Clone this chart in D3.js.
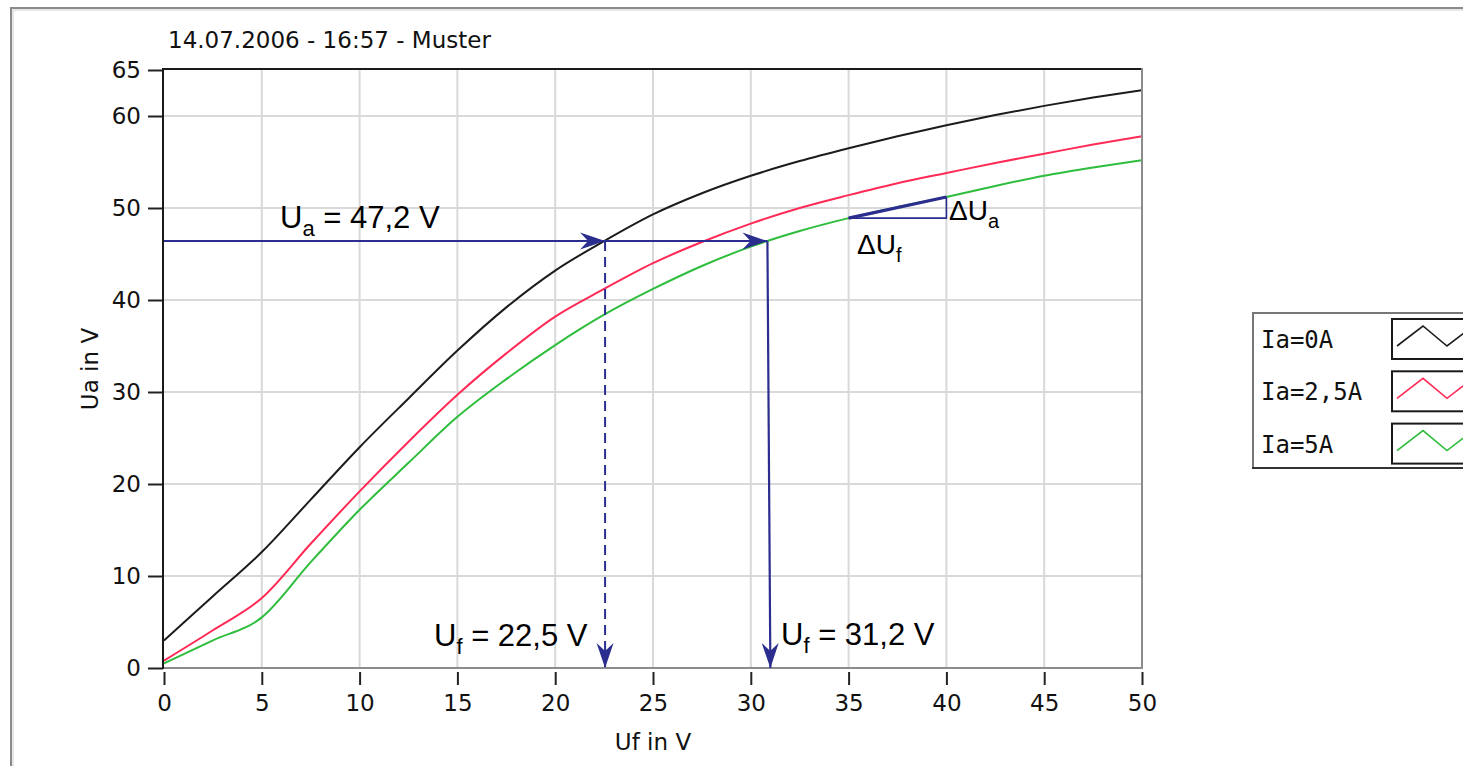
<!DOCTYPE html>
<html>
<head>
<meta charset="utf-8">
<script src="https://cdn.jsdelivr.net/npm/d3@7"></script>
<style>
  body { margin: 0; background: #fff; }
  svg { display: block; }
  .tick text { font-family: "DejaVu Sans", sans-serif; font-size: 23px; fill: #111; }
  .lbl { font-family: "Liberation Sans", Arial, sans-serif; fill: #000; }
</style>
</head>
<body>
<svg width="1463" height="766"></svg>
<script>
  // values
  const ufValues = [0, 2.5, 5, 7.5, 10, 12.5, 15, 17.5, 20, 22.5, 25, 27.5, 30, 32.5, 35, 37.5, 40, 42.5, 45, 47.5, 50];
  const ua0  = [3.0, 7.8, 12.6, 18.3, 24.0, 29.3, 34.5, 39.2, 43.2, 46.4, 49.3, 51.6, 53.5, 55.1, 56.5, 57.8, 59.0, 60.1, 61.1, 62.0, 62.8];
  const ua25 = [0.8, 4.1, 7.6, 13.5, 19.2, 24.6, 29.7, 34.2, 38.2, 41.2, 44.0, 46.3, 48.3, 50.0, 51.4, 52.7, 53.8, 54.9, 55.9, 56.9, 57.8];
  const ua5  = [0.5, 3.0, 5.5, 11.5, 17.2, 22.3, 27.3, 31.4, 35.1, 38.4, 41.2, 43.7, 45.8, 47.5, 48.9, 50.1, 51.2, 52.4, 53.5, 54.4, 55.2];

  const seriesNames = ['Ia=0A', 'Ia=2,5A', 'Ia=5A'];
  const seriesColors = ['#1c1c1c', '#ff2a55', '#2ebd3c'];
  const seriesValues = [ua0, ua25, ua5];

  const xTicks = [0, 5, 10, 15, 20, 25, 30, 35, 40, 45, 50];
  const yTicks = [0, 10, 20, 30, 40, 50, 60, 65];

  // annotation values (reading points)
  const uaLevel = 46.4;
  const ufAtBlack = 22.55;
  const ufAtGreenTop = 30.85, ufAtGreenBottom = 31.0;
  const deltaFrom = [35, 48.9], deltaTo = [40, 51.2];

  const svg = d3.select('svg');
  const width = +svg.attr('width');
  const height = +svg.attr('height');
  const navy = '#2b2e8e';

  const plot = { left: 164, right: 1142, top: 70, bottom: 668 };

  const x = d3.scaleLinear().domain([0, 50]).range([plot.left, plot.right]);
  const y = d3.scaleLinear().domain([0, 65]).range([plot.bottom, plot.top]);

  // outer panel frame
  svg.append('rect').attr('x', 11).attr('y', 8).attr('width', width + 20).attr('height', height + 20)
    .attr('fill', 'none').attr('stroke', '#8a8a8a').attr('stroke-width', 2);
  svg.append('rect').attr('x', 13).attr('y', 10).attr('width', width + 20).attr('height', height + 20)
    .attr('fill', 'none').attr('stroke', '#d0d0d0').attr('stroke-width', 1);

  // title
  svg.append('text').attr('x', 168).attr('y', 48)
    .style('font-family', '"DejaVu Sans", sans-serif').style('font-size', '23px').attr('fill', '#111')
    .text('14.07.2006 - 16:57 - Muster');

  // grid
  const grid = svg.append('g');
  grid.selectAll('.gx').data(xTicks.slice(1, -1)).enter().append('line')
    .attr('x1', d => x(d)).attr('x2', d => x(d)).attr('y1', plot.top).attr('y2', plot.bottom)
    .attr('stroke', '#d9d9d9').attr('stroke-width', 2);
  grid.selectAll('.gy').data(yTicks.filter(d => d > 0 && d < 65)).enter().append('line')
    .attr('x1', plot.left).attr('x2', plot.right).attr('y1', d => y(d)).attr('y2', d => y(d))
    .attr('stroke', '#d9d9d9').attr('stroke-width', 2);

  // axes
  const xAxisG = svg.append('g').attr('transform', `translate(0,${plot.bottom + 4})`)
    .call(d3.axisBottom(x).tickValues(xTicks).tickSize(13).tickPadding(10).tickFormat(d3.format('d')));
  xAxisG.select('.domain').remove();
  xAxisG.selectAll('.tick line').attr('stroke', '#222').attr('stroke-width', 2);

  const yAxisG = svg.append('g').attr('transform', `translate(${plot.left - 1},0)`)
    .call(d3.axisLeft(y).tickValues(yTicks).tickSize(15).tickPadding(7).tickFormat(d3.format('d')));
  yAxisG.select('.domain').remove();
  yAxisG.selectAll('.tick line').attr('stroke', '#222').attr('stroke-width', 2);

  // axis labels
  svg.append('text').attr('x', x(25)).attr('y', 750).attr('text-anchor', 'middle')
    .style('font-family', '"DejaVu Sans", sans-serif').style('font-size', '23px').attr('fill', '#111')
    .text('Uf in V');
  svg.append('text').attr('transform', `translate(98,${(plot.top + plot.bottom) / 2}) rotate(-90)`)
    .attr('text-anchor', 'middle')
    .style('font-family', '"DejaVu Sans", sans-serif').style('font-size', '23px').attr('fill', '#111')
    .text('Ua in V');

  // curves
  const line = d3.line().x(d => x(d[0])).y(d => y(d[1])).curve(d3.curveMonotoneX);
  seriesValues.forEach((vals, i) => {
    svg.append('path')
      .datum(ufValues.map((u, k) => [u, vals[k]]))
      .attr('d', line).attr('fill', 'none')
      .attr('stroke', seriesColors[i]).attr('stroke-width', 2);
  });

  // plot frame (3D look: dark top/left, grey right/bottom)
  svg.append('line').attr('x1', plot.left).attr('x2', plot.right).attr('y1', plot.top - 1).attr('y2', plot.top - 1)
    .attr('stroke', '#1a1a1a').attr('stroke-width', 2);
  svg.append('line').attr('x1', plot.left - 1).attr('x2', plot.left - 1).attr('y1', plot.top - 2).attr('y2', plot.bottom + 1)
    .attr('stroke', '#1a1a1a').attr('stroke-width', 2);
  svg.append('line').attr('x1', plot.right).attr('x2', plot.right).attr('y1', plot.top - 2).attr('y2', plot.bottom + 1)
    .attr('stroke', '#8c8c8c').attr('stroke-width', 2);
  svg.append('line').attr('x1', plot.left).attr('x2', plot.right + 1).attr('y1', plot.bottom).attr('y2', plot.bottom)
    .attr('stroke', '#8c8c8c').attr('stroke-width', 2);

  // arrow markers
  const defs = svg.append('defs');
  defs.append('marker').attr('id', 'arr').attr('viewBox', '-26 -10 28 20')
    .attr('refX', 0).attr('refY', 0).attr('markerWidth', 28).attr('markerHeight', 20)
    .attr('markerUnits', 'userSpaceOnUse').attr('orient', 'auto')
    .append('path').attr('d', 'M0,0 L-25,-8.5 L-17,0 L-25,8.5 Z').attr('fill', navy);

  const ann = svg.append('g').attr('stroke', navy).attr('fill', 'none');
  // horizontal reading line with two arrowheads
  ann.append('line').attr('x1', x(0)).attr('y1', y(uaLevel)).attr('x2', x(ufAtBlack)).attr('y2', y(uaLevel))
    .attr('stroke-width', 2).attr('marker-end', 'url(#arr)');
  ann.append('line').attr('x1', x(ufAtBlack)).attr('y1', y(uaLevel)).attr('x2', x(ufAtGreenTop)).attr('y2', y(uaLevel))
    .attr('stroke-width', 2).attr('marker-end', 'url(#arr)');
  // dashed drop for Ia=0A
  ann.append('line').attr('x1', x(ufAtBlack)).attr('y1', y(uaLevel)).attr('x2', x(ufAtBlack)).attr('y2', y(0))
    .attr('stroke-width', 2).attr('stroke-dasharray', '10,6').attr('marker-end', 'url(#arr)');
  // solid drop for Ia=5A
  ann.append('line').attr('x1', x(ufAtGreenTop)).attr('y1', y(uaLevel)).attr('x2', x(ufAtGreenBottom)).attr('y2', y(0))
    .attr('stroke-width', 2.2).attr('marker-end', 'url(#arr)');

  // slope triangle
  ann.append('line').attr('x1', x(deltaFrom[0])).attr('y1', y(deltaFrom[1])).attr('x2', x(deltaTo[0])).attr('y2', y(deltaTo[1]))
    .attr('stroke-width', 3.2);
  ann.append('path')
    .attr('d', `M${x(deltaFrom[0])},${y(deltaFrom[1])} H${x(deltaTo[0])} V${y(deltaTo[1])}`)
    .attr('stroke-width', 1.6);

  // annotation texts
  const addLabel = (px, py, size, main, sub, rest, subSize, subDy) => {
    const t = svg.append('text').attr('class', 'lbl').attr('x', px).attr('y', py).style('font-size', size + 'px');
    t.append('tspan').text(main);
    t.append('tspan').attr('dy', subDy).style('font-size', subSize + 'px').text(sub);
    if (rest) t.append('tspan').attr('dy', -subDy).text(rest);
  };
  addLabel(280, 228, 31, 'U', 'a', ' = 47,2 V', 22, 8);
  addLabel(434, 646, 31, 'U', 'f', ' = 22,5 V', 22, 8);
  addLabel(781, 645, 31, 'U', 'f', ' = 31,2 V', 22, 8);
  addLabel(949, 220, 28, '\u0394U', 'a', null, 20, 8);
  addLabel(857, 254, 28, '\u0394U', 'f', null, 20, 8);

  // legend
  const lg = svg.append('g');
  lg.append('rect').attr('x', 1253).attr('y', 313).attr('width', 240).attr('height', 155)
    .attr('fill', '#fff').attr('stroke', '#777').attr('stroke-width', 2);
  lg.append('line').attr('x1', 1252).attr('x2', 1463).attr('y1', 468).attr('y2', 468)
    .attr('stroke', '#333').attr('stroke-width', 2);
  const rowH = 52.3;
  seriesNames.forEach((name, i) => {
    const top = 319 + i * rowH;
    lg.append('text').attr('x', 1261).attr('y', 348 + i * rowH)
      .style('font-family', '"DejaVu Sans Mono", monospace').style('font-size', '24px').attr('fill', '#111')
      .text(name);
    lg.append('rect').attr('x', 1392).attr('y', top).attr('width', 90).attr('height', 40)
      .attr('fill', '#fff').attr('stroke', '#1a1a1a').attr('stroke-width', 2);
    lg.append('path')
      .attr('d', `M1397,${top + 27} L1423,${top + 7} L1447,${top + 27} L1473,${top + 7}`)
      .attr('fill', 'none').attr('stroke', seriesColors[i]).attr('stroke-width', 1.6);
  });
</script>
</body>
</html>
